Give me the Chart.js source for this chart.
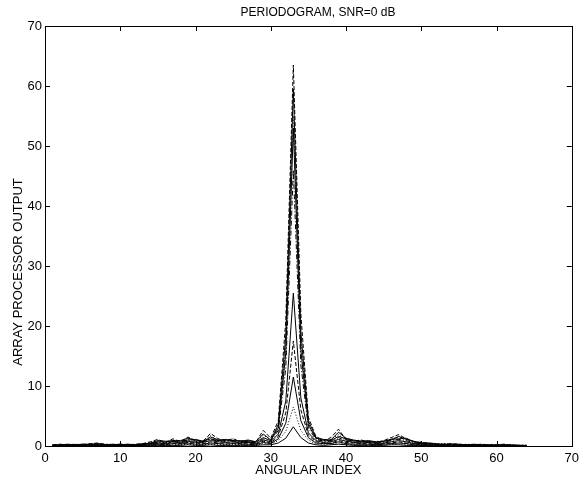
<!DOCTYPE html>
<html><head><meta charset="utf-8">
<script src="https://cdn.jsdelivr.net/npm/chart.js@4"></script>
<style>html,body{margin:0;padding:0;background:#fff;}#wrap{width:584px;height:484px;}</style>
</head><body><div id="wrap"><canvas id="c" width="584" height="484"></canvas></div>
<script>
// Angular index (x categories)
const angularIndex = [1,2,3,4,5,6,7,8,9,10,11,12,13,14,15,16,17,18,19,20,21,22,23,24,25,26,27,28,29,30,31,32,
  33,34,35,36,37,38,39,40,41,42,43,44,45,46,47,48,49,50,51,52,53,54,55,56,57,58,59,60,61,62,63,64];
const xTickValues = [0,10,20,30,40,50,60,70];
const yTickValues = [0,10,20,30,40,50,60,70];
const chartTitle = 'PERIODOGRAM, SNR=0 dB';
const xTitle = 'ANGULAR INDEX';
const yTitle = 'ARRAY PROCESSOR OUTPUT';

// Periodogram realisations (array processor output)
const run1 = [0.2,0.3,0.2,0.3,0.2,0.4,0.5,0.3,0.2,0.3,0.2,0.3,
 0.4,0.7,1.1,0.6,1.2,0.7,1.5,0.9,0.8,2.1,1.2,0.9,
 1.2,0.7,0.9,0.6,2.6,1.3,4.2,21.0,63.5,22.0,4.8,1.6,
 0.9,1.4,2.8,1.1,0.8,1.0,0.7,0.6,0.9,1.4,1.9,1.2,
 0.7,0.6,0.5,0.3,0.3,0.4,0.3,0.2,0.2,0.3,0.2,0.2,
 0.3,0.1,0.1,0.1];
const run2 = [0.1,0.2,0.3,0.2,0.3,0.3,0.4,0.2,0.3,0.2,0.3,0.2,
 0.3,0.5,0.9,0.8,0.8,0.9,1.3,1.0,0.7,1.5,1.0,1.1,
 0.9,0.8,1.0,0.7,2.0,1.0,3.6,18.5,59.5,19.0,4.2,1.4,
 1.1,1.0,2.3,1.3,1.0,0.8,0.9,0.7,0.8,1.0,1.6,1.1,
 0.8,0.5,0.5,0.4,0.2,0.3,0.3,0.2,0.3,0.2,0.2,0.1,
 0.2,0.2,0.1,0.1];
const run3 = [0.2,0.1,0.2,0.2,0.2,0.3,0.4,0.3,0.2,0.2,0.3,0.2,
 0.3,0.6,0.8,0.5,1.0,0.6,1.2,0.8,0.9,1.7,1.0,0.7,
 1.2,0.6,0.8,0.8,1.8,1.1,3.2,16.5,55.0,17.5,3.8,1.2,
 0.8,1.1,1.9,1.0,0.7,0.9,0.6,0.8,0.7,1.2,1.5,1.0,
 0.6,0.7,0.3,0.3,0.4,0.3,0.2,0.3,0.2,0.2,0.2,0.2,
 0.1,0.2,0.1,0.1];
const run4 = [0.1,0.2,0.2,0.1,0.3,0.2,0.3,0.2,0.2,0.3,0.2,0.2,
 0.4,0.4,0.7,0.7,0.9,0.8,1.0,1.1,0.8,1.2,0.9,1.0,
 0.8,0.9,0.7,0.6,1.4,0.9,3.0,15.5,53.0,16.0,3.5,1.3,
 1.0,0.9,1.6,1.2,0.9,0.7,0.8,0.6,0.8,1.1,1.2,1.3,
 0.7,0.5,0.4,0.3,0.3,0.3,0.2,0.2,0.2,0.2,0.1,0.2,
 0.2,0.1,0.1,0.1];
const run5 = [0.1,0.1,0.2,0.2,0.2,0.2,0.3,0.2,0.1,0.2,0.2,0.2,
 0.3,0.5,0.6,0.5,0.8,0.6,0.9,0.8,0.7,1.1,0.8,0.8,
 0.9,0.6,0.7,0.5,1.2,0.8,2.6,13.0,46.0,13.5,3.0,1.1,
 0.8,0.8,1.4,0.9,0.8,0.6,0.7,0.5,0.6,0.9,1.1,0.9,
 0.5,0.5,0.3,0.2,0.3,0.2,0.2,0.2,0.1,0.2,0.1,0.1,
 0.1,0.1,0.1,0.1];
const run6 = [0.1,0.1,0.1,0.2,0.1,0.2,0.2,0.1,0.2,0.1,0.2,0.1,
 0.2,0.4,0.5,0.4,0.7,0.5,0.8,0.6,0.6,0.9,0.7,0.6,
 0.7,0.5,0.6,0.4,1.0,0.7,2.0,7.5,25.5,8.0,2.2,0.9,
 0.6,0.7,1.1,0.8,0.6,0.5,0.6,0.4,0.5,0.7,0.9,0.7,
 0.4,0.4,0.2,0.2,0.2,0.2,0.1,0.2,0.1,0.1,0.1,0.1,
 0.1,0.1,0.1,0.0];
const run7 = [0.1,0.1,0.1,0.1,0.1,0.1,0.2,0.1,0.1,0.1,0.1,0.1,
 0.2,0.3,0.4,0.3,0.5,0.4,0.6,0.5,0.4,0.7,0.5,0.5,
 0.5,0.4,0.5,0.3,0.8,0.5,1.6,5.5,17.5,6.0,1.8,0.7,
 0.5,0.5,0.9,0.6,0.5,0.4,0.4,0.3,0.4,0.5,0.7,0.5,
 0.3,0.3,0.2,0.1,0.2,0.1,0.1,0.1,0.1,0.1,0.1,0.1,
 0.1,0.0,0.1,0.0];
const run8 = [0.0,0.1,0.1,0.1,0.1,0.1,0.1,0.1,0.1,0.1,0.1,0.1,
 0.1,0.2,0.3,0.2,0.4,0.3,0.5,0.3,0.3,0.5,0.4,0.3,
 0.4,0.3,0.3,0.2,0.6,0.4,1.2,3.8,11.5,4.2,1.4,0.5,
 0.4,0.4,0.7,0.4,0.3,0.3,0.3,0.2,0.3,0.4,0.5,0.4,
 0.2,0.2,0.1,0.1,0.1,0.1,0.1,0.1,0.1,0.0,0.1,0.0,
 0.0,0.0,0.0,0.0];
const run9 = [0.0,0.0,0.1,0.0,0.1,0.0,0.1,0.0,0.1,0.0,0.1,0.0,
 0.1,0.1,0.2,0.1,0.3,0.2,0.3,0.2,0.2,0.3,0.2,0.2,
 0.3,0.2,0.2,0.1,0.4,0.3,0.9,2.4,6.5,2.6,1.0,0.3,
 0.3,0.3,0.5,0.3,0.2,0.2,0.2,0.1,0.2,0.3,0.3,0.2,
 0.1,0.1,0.1,0.1,0.0,0.1,0.0,0.1,0.0,0.0,0.0,0.0,
 0.0,0.0,0.0,0.0];
const run10 = [0.0,0.0,0.0,0.0,0.0,0.0,0.0,0.0,0.0,0.0,0.0,0.0,
 0.0,0.1,0.1,0.1,0.1,0.1,0.2,0.1,0.1,0.2,0.1,0.1,
 0.1,0.1,0.1,0.1,0.2,0.2,0.5,1.3,3.2,1.4,0.5,0.2,
 0.1,0.2,0.3,0.2,0.1,0.1,0.1,0.1,0.1,0.2,0.2,0.1,
 0.1,0.1,0.0,0.0,0.0,0.0,0.0,0.0,0.0,0.0,0.0,0.0,
 0.0,0.0,0.0,0.0];

const runs = [run1, run2, run3, run4, run5, run6, run7, run8, run9, run10];
const dashStyles = [[4,2],[],[1,2],[],[5,2,1,2],[],[4,2],[],[1,2],[]];

const FONT = "'Liberation Sans', Arial, Helvetica, sans-serif";
Chart.defaults.font.family = FONT;
Chart.defaults.color = '#000';

const datasets = runs.map((r, k) => ({
  label: 'run ' + (k + 1),
  data: angularIndex.map((xv, i) => ({x: xv, y: r[i]})),
  borderColor: '#000',
  borderWidth: 1,
  borderDash: dashStyles[k],
  pointRadius: 0,
  tension: 0,
  fill: false
}));

const frameTicks = {
  id: 'frameTicks',
  afterDraw(chart) {
    const {ctx, chartArea: a, scales: {x, y}} = chart;
    ctx.save();
    ctx.strokeStyle = '#000';
    ctx.lineWidth = 1;
    ctx.strokeRect(Math.round(a.left) + 0.5, Math.round(a.top) + 0.5,
      Math.round(a.right - a.left), Math.round(a.bottom - a.top));
    const L = 5;
    ctx.beginPath();
    xTickValues.slice(1, -1).forEach(v => {
      const p = Math.round(x.getPixelForValue(v)) + 0.5;
      ctx.moveTo(p, a.bottom); ctx.lineTo(p, a.bottom - L);
      ctx.moveTo(p, a.top); ctx.lineTo(p, a.top + L);
    });
    yTickValues.slice(1, -1).forEach(v => {
      const p = Math.round(y.getPixelForValue(v)) + 0.5;
      ctx.moveTo(a.left, p); ctx.lineTo(a.left + L, p);
      ctx.moveTo(a.right, p); ctx.lineTo(a.right - L, p);
    });
    ctx.stroke();
    // titles
    ctx.fillStyle = '#000';
    ctx.textAlign = 'center';
    ctx.textBaseline = 'middle';
    ctx.font = '12px ' + FONT;
    ctx.fillText(chartTitle, 318, 13);
    ctx.font = '13px ' + FONT;
    ctx.translate(18, 272);
    ctx.rotate(-Math.PI / 2);
    ctx.fillText(yTitle, 0, 0);
    ctx.restore();
  }
};

new Chart(document.getElementById('c'), {
  type: 'line',
  data: { datasets },
  options: {
    responsive: false,
    animation: false,
    devicePixelRatio: 1,
    layout: { padding: { left: 0, right: 12, top: 26, bottom: 0 } },
    plugins: {
      legend: { display: false },
      tooltip: { enabled: false },
      title: { display: false }
    },
    scales: {
      x: {
        type: 'linear', min: 0, max: 70,
        afterFit: s => { s.height = 38; },
        afterBuildTicks: s => { s.ticks = xTickValues.map(v => ({value: v})); },
        grid: { display: false, drawTicks: false },
        border: { display: true, color: '#000', width: 1 },
        ticks: { font: { size: 13 }, color: '#000', padding: 5, maxRotation: 0 },
        title: { display: true, text: xTitle, font: { size: 13 }, color: '#000', padding: { top: 0, bottom: 6 } }
      },
      y: {
        type: 'linear', min: 0, max: 70,
        afterFit: s => { s.width = 45; },
        afterBuildTicks: s => { s.ticks = yTickValues.map(v => ({value: v})); },
        grid: { display: false, drawTicks: false },
        border: { display: true, color: '#000', width: 1 },
        ticks: { font: { size: 13 }, color: '#000', padding: 3 },
        title: { display: false }
      }
    }
  },
  plugins: [frameTicks]
});
</script>
</body></html>
